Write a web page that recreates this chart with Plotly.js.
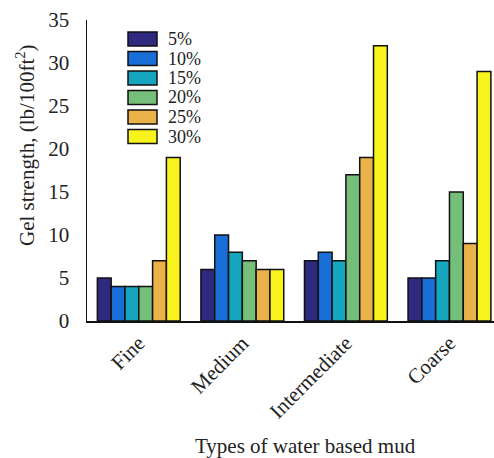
<!DOCTYPE html>
<html><head><meta charset="utf-8">
<script src="https://cdn.plot.ly/plotly-3.0.1.min.js"></script>
<style>html,body{margin:0;padding:0;background:#fff}</style>
</head><body><div id="chart" style="width:494px;height:458px"></div>
<script>
const categories = ["Fine", "Medium", "Intermediate", "Coarse"];
const seriesNames = ["5%", "10%", "15%", "20%", "25%", "30%"];
const s5  = [5, 6, 7, 5];
const s10 = [4, 10, 8, 5];
const s15 = [4, 8, 7, 7];
const s20 = [4, 7, 17, 15];
const s25 = [7, 6, 19, 9];
const s30 = [19, 6, 32, 29];
const yTicks = [0, 5, 10, 15, 20, 25, 30, 35];
const colors = ["#2e2a80", "#1a6ed8", "#16a5bf", "#76bf7a", "#ebb24a", "#f8f31c"];
const allSeries = [s5, s10, s15, s20, s25, s30];

const font = "Liberation Serif, Times New Roman, serif";
const W = 494, H = 458, ML = 87, MR = 0, MT = 20, MB = 137;
const px = v => (v - ML) / (W - ML - MR);
const py = v => (H - MB - v) / (H - MT - MB);

const traces = allSeries.map((vals, i) => ({
  type: "bar", name: seriesNames[i], x: categories, y: vals,
  marker: {color: colors[i], line: {color: "#111", width: 1.5}}
}));

// custom legend with wide swatches
const shapes = [], annotations = [];
seriesNames.forEach((nm, i) => {
  const top = 32 + 19.5 * i;
  shapes.push({type: "rect", xref: "paper", yref: "paper",
    x0: px(128), x1: px(157), y0: py(top), y1: py(top + 14),
    fillcolor: colors[i], line: {color: "#111", width: 1.5}});
  annotations.push({text: nm, xref: "paper", yref: "paper", x: px(166), y: py(top + 7),
    xanchor: "left", yanchor: "middle", showarrow: false,
    font: {family: font, size: 18, color: "#222"}});
});
annotations.push({text: "Types of water based mud", xref: "paper", yref: "paper",
  x: px(305), y: py(446), xanchor: "center", yanchor: "middle", showarrow: false,
  font: {family: font, size: 21, color: "#222"}});
annotations.push({text: "Gel strength, (lb/100ft<sup>2</sup>)", xref: "paper", yref: "paper",
  x: px(25), y: py(145), xanchor: "center", yanchor: "middle", textangle: -90, showarrow: false,
  font: {family: font, size: 21, color: "#222"}});

const layout = {
  width: W, height: H,
  margin: {l: ML, r: MR, t: MT, b: MB},
  paper_bgcolor: "#fff", plot_bgcolor: "#fff",
  barmode: "group", bargap: 0.2, bargroupgap: 0,
  font: {family: font, size: 20, color: "#222"},
  showlegend: false,
  xaxis: {range: [-0.5, 3.43], showline: true, linecolor: "#111", linewidth: 1.5,
          ticks: "", tickangle: -45, tickfont: {family: font, size: 21, color: "#222"},
          showgrid: false, zeroline: false},
  yaxis: {range: [0, 35], tickvals: yTicks, showline: true, linecolor: "#111", linewidth: 1.5,
          ticks: "", showgrid: false, zeroline: false, ticklabelstandoff: 12,
          tickfont: {family: font, size: 21, color: "#222"}},
  shapes: shapes,
  annotations: annotations
};
Plotly.newPlot("chart", traces, layout, {displayModeBar: false, staticPlot: true});
</script></body></html>
